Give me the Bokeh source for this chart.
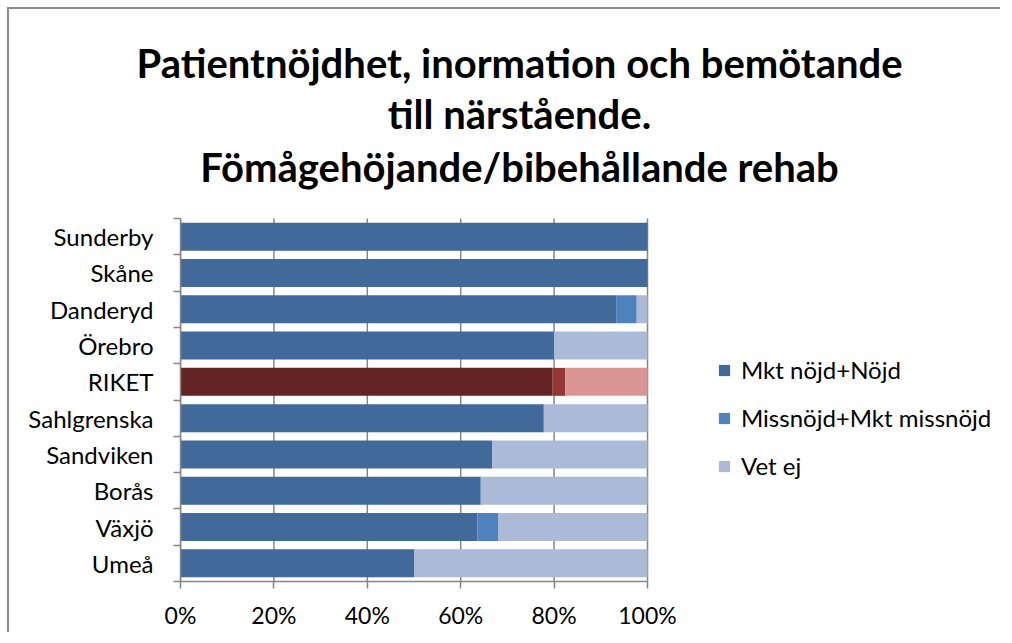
from bokeh.plotting import figure
from bokeh.models import (ColumnDataSource, Range1d, FixedTicker, PrintfTickFormatter,
                          Legend, LegendItem, Label, Title)
from bokeh.embed import file_html
from bokeh.resources import INLINE

categories = ["Sunderby", "Skåne", "Danderyd", "Örebro", "RIKET",
              "Sahlgrenska", "Sandviken", "Borås", "Växjö", "Umeå"]
nojd = [100.0, 100.0, 93.3, 80.0, 79.7, 77.8, 66.7, 64.3, 63.6, 50.0]
missnojd = [0.0, 0.0, 4.4, 0.0, 2.7, 0.0, 0.0, 0.0, 4.5, 0.0]
vet_ej = [0.0, 0.0, 2.3, 20.0, 17.6, 22.2, 33.3, 35.7, 31.9, 50.0]
series_names = ["Mkt nöjd+Nöjd", "Missnöjd+Mkt missnöjd", "Vet ej"]
blue_colors = ["#416A9B", "#4F81BD", "#AABAD7"]
riket_colors = ["#632423", "#953735", "#D99594"]
title_lines = ["Patientnöjdhet, inormation och bemötande",
               "till närstående.",
               "Fömågehöjande/bibehållande rehab"]
x_ticks = [0, 20, 40, 60, 80, 100]

n = len(categories)
ypos = [n - 1 - i for i in range(n)]
FONT = "Lato"

# layout constants (pixels)
W, H = 1000, 632
BL, BT, BB = 180, 86, 51
FW, FH = W - BL, H - BT - BB
PX_X = 4.67    # pixels per percent
PX_Y = 36.3    # pixels per category row

p = figure(width=W, height=H, output_backend="svg", toolbar_location=None,
           x_range=Range1d(0, FW / PX_X), y_range=Range1d(-0.5, -0.5 + FH / PX_Y),
           min_border_left=BL, min_border_right=0, min_border_top=BT,
           min_border_bottom=BB)
p.outline_line_color = None
p.border_fill_color = None
# chart-area border: top and left edges (the rest lies outside the window)
p.styles = {"background":
            "linear-gradient(#8c8c8c, #8c8c8c) 7px 7px / 2px 100% no-repeat, "
            "linear-gradient(#8c8c8c, #8c8c8c) 7px 7px / 100% 2px no-repeat, white"}

# vertical grid lines at the x ticks, spanning the category area
p.segment(x0=x_ticks, x1=x_ticks, y0=[-0.5] * len(x_ticks), y1=[n - 0.5] * len(x_ticks),
          line_color="#868686", line_width=1.5)

series = [nojd, missnojd, vet_ej]
renderers = []
left = [0.0] * n
for s, vals in enumerate(series):
    right = [l + v for l, v in zip(left, vals)]
    colors = [riket_colors[s] if c == "RIKET" else blue_colors[s] for c in categories]
    src = ColumnDataSource(dict(y=ypos, left=left, right=right, color=colors))
    r = p.hbar(y="y", left="left", right="right", height=0.77, fill_color="color",
               line_color=None, source=src)
    renderers.append(r)
    left = right

p.xgrid.grid_line_color = None
p.ygrid.grid_line_color = None

# x axis
p.xaxis.bounds = (0, 100)
p.xaxis.ticker = FixedTicker(ticks=x_ticks)
p.xaxis.formatter = PrintfTickFormatter(format="%d%%")
p.xaxis.axis_line_color = "#868686"
p.xaxis.axis_line_width = 1.5
p.xaxis.major_tick_line_color = "#868686"
p.xaxis.major_tick_line_width = 1.5
p.xaxis.major_tick_out = 7
p.xaxis.major_tick_in = 0
p.xaxis.minor_tick_line_color = None
p.xaxis.major_label_text_font = FONT
p.xaxis.major_label_text_font_size = "23px"
p.xaxis.major_label_text_color = "black"
p.xaxis.major_label_standoff = 12

# y axis
p.yaxis.bounds = (-0.5, n - 0.5)
p.yaxis.ticker = FixedTicker(ticks=ypos, minor_ticks=[i - 0.5 for i in range(n + 1)])
p.yaxis.major_label_overrides = {y: c for y, c in zip(ypos, categories)}
p.yaxis.axis_line_color = "#868686"
p.yaxis.axis_line_width = 1.5
p.yaxis.major_tick_line_color = None
p.yaxis.major_tick_out = 0
p.yaxis.major_tick_in = 0
p.yaxis.minor_tick_line_color = "#868686"
p.yaxis.minor_tick_line_width = 1.5
p.yaxis.minor_tick_out = 7
p.yaxis.minor_tick_in = 0
p.yaxis.major_label_text_font = FONT
p.yaxis.major_label_text_font_size = "24px"
p.yaxis.major_label_text_color = "black"
p.yaxis.major_label_standoff = 20

# legend (right of the bars, inside the wide frame)
items = [LegendItem(label=nm, renderers=[r], index=0) for nm, r in zip(series_names, renderers)]
legend = Legend(items=items, location=(537, 101), border_line_color=None,
                background_fill_alpha=0, padding=0, margin=0,
                glyph_width=14, glyph_height=14, label_standoff=10,
                label_height=24, spacing=19,
                label_text_font=FONT, label_text_font_size="24px",
                label_text_color="black")
p.add_layout(legend, "center")

# title: first line as a plot title (not clipped), the other two as labels
p.add_layout(Title(text=title_lines[0], align="left", offset=-44, standoff=0,
                   text_font=FONT, text_font_size="40px", text_font_style="bold",
                   text_color="black"), "above")
for k, line in enumerate(title_lines[1:]):
    p.add_layout(Label(x=339, y=467.5 - 52.5 * k, x_units="screen", y_units="screen",
                       text=line, text_align="center", text_baseline="alphabetic",
                       text_font=FONT, text_font_size="40px", text_font_style="bold",
                       text_color="black"))

open("out.html", "w").write(file_html(p, INLINE))
